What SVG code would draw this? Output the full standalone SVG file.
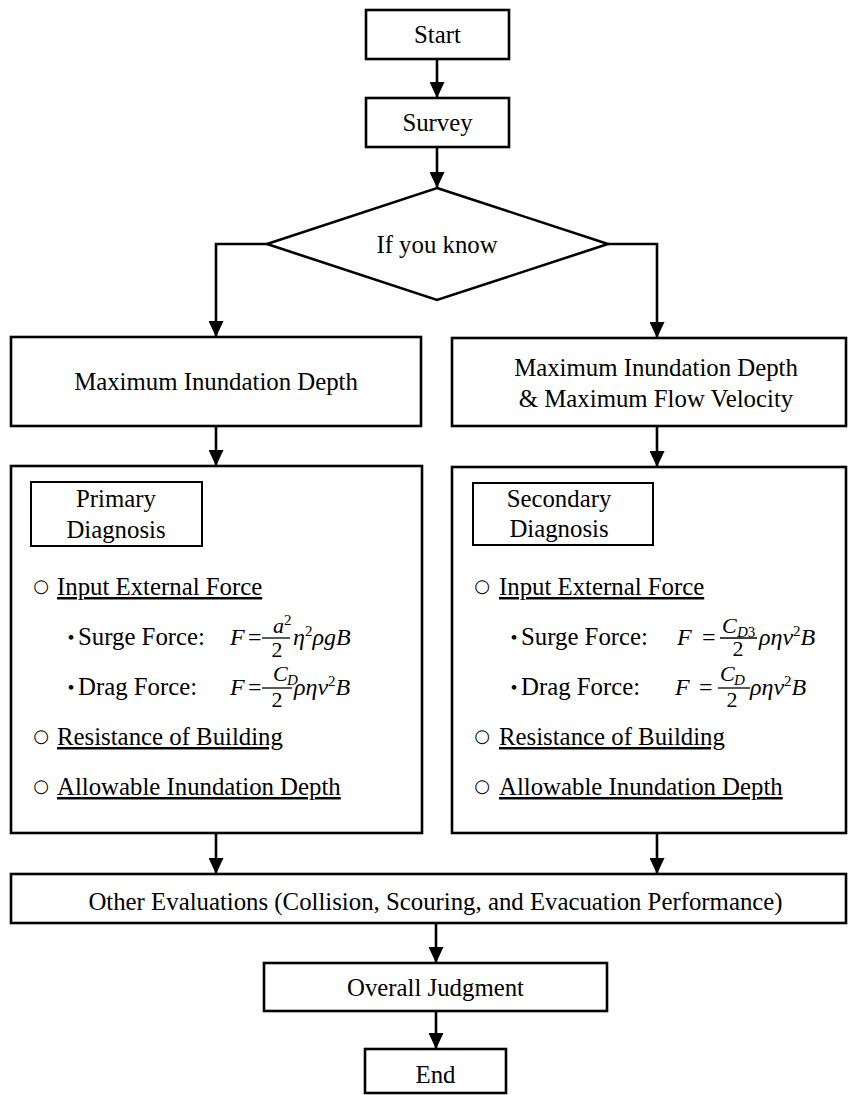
<svg xmlns="http://www.w3.org/2000/svg" width="849" height="1095" viewBox="0 0 849 1095">
<defs>
<marker id="ah" markerWidth="16" markerHeight="15" refX="16" refY="7.5" orient="auto" markerUnits="userSpaceOnUse">
<path d="M0,0 L16,7.5 L0,15 Z" fill="#000"/>
</marker>
<style>
.box{fill:#fff;stroke:#000;stroke-width:2.6}
.sub{fill:#fff;stroke:#000;stroke-width:2}
.t{font-family:"Liberation Serif","Times New Roman",serif;font-size:24.8px;fill:#000}
.c{text-anchor:middle}
.u{text-decoration:underline}
.fi{font-family:"Liberation Serif","Times New Roman",serif;font-style:italic;font-size:24px;fill:#000}
.fr{font-family:"Liberation Serif","Times New Roman",serif;font-size:24px;fill:#000}
.nm{font-size:22px}
.sb{font-size:15px}
.bar{stroke:#000;stroke-width:1.3}
.circ{font-family:"DejaVu Sans",sans-serif;font-size:18px;fill:#000;text-anchor:middle}
.dot{font-family:"Noto Sans CJK JP",sans-serif;font-size:22px;fill:#000;text-anchor:middle}
.conn{fill:none;stroke:#000;stroke-width:2.6}
</style>
</defs>
<rect width="849" height="1095" fill="#fff"/>

<g id="connectors">
<line class="conn" x1="437" y1="60" x2="437" y2="98" marker-end="url(#ah)"/>
<line class="conn" x1="437" y1="147" x2="437" y2="188" marker-end="url(#ah)"/>
<polyline class="conn" points="267,244 216,244 216,337" marker-end="url(#ah)"/>
<polyline class="conn" points="608,244 657,244 657,338" marker-end="url(#ah)"/>
<line class="conn" x1="216" y1="426" x2="216" y2="466" marker-end="url(#ah)"/>
<line class="conn" x1="657" y1="426" x2="657" y2="467" marker-end="url(#ah)"/>
<line class="conn" x1="216" y1="833" x2="216" y2="874" marker-end="url(#ah)"/>
<line class="conn" x1="657" y1="833" x2="657" y2="874" marker-end="url(#ah)"/>
<line class="conn" x1="436" y1="923" x2="436" y2="963" marker-end="url(#ah)"/>
<line class="conn" x1="436" y1="1011" x2="436" y2="1049" marker-end="url(#ah)"/>
</g>

<g id="start">
<rect class="box" x="366" y="10" width="143" height="49"/>
<text class="t c" x="437.5" y="43">Start</text>
</g>

<g id="survey">
<rect class="box" x="366" y="98" width="143" height="49"/>
<text class="t c" x="437.5" y="131">Survey</text>
</g>

<g id="decision">
<polygon class="box" points="437,188 608,244 437,300 267,244"/>
<text class="t c" x="437" y="253">If you know</text>
</g>

<g id="maxdepth">
<rect class="box" x="11" y="337" width="410" height="89"/>
<text class="t c" x="216" y="390">Maximum Inundation Depth</text>
</g>

<g id="maxdepthvel">
<rect class="box" x="452" y="338" width="394" height="88"/>
<text class="t c" x="656" y="376">Maximum Inundation Depth</text>
<text class="t c" x="656" y="407">&amp; Maximum Flow Velocity</text>
</g>

<g id="primary">
<rect class="box" x="11" y="466" width="411" height="367"/>
<rect class="sub" x="31" y="482" width="171" height="64"/>
<text class="t c" x="116" y="507">Primary</text>
<text class="t c" x="116" y="538">Diagnosis</text>

<text class="circ" x="41" y="592">○</text>
<text class="t u" x="57" y="595">Input External Force</text>

<text class="dot" x="71" y="645">・</text>
<text class="t" x="78" y="645">Surge Force:</text>
<text class="fi" x="230" y="645">F</text>
<text class="fr" x="248" y="645">=</text>
<text class="fi nm" x="273" y="633">a</text>
<text class="fr sb" x="284" y="625">2</text>
<line class="bar" x1="262" y1="638" x2="290" y2="638"/>
<text class="fr nm c" x="277" y="657">2</text>
<text class="fi" x="293" y="645">η<tspan class="sb" font-style="normal" dy="-9">2</tspan><tspan dy="9">ρgB</tspan></text>

<text class="dot" x="71" y="695">・</text>
<text class="t" x="78" y="695">Drag Force:</text>
<text class="fi" x="230" y="695">F</text>
<text class="fr" x="248" y="695">=</text>
<text class="fi nm" x="273" y="681">C</text>
<text class="fi sb" x="287" y="685">D</text>
<line class="bar" x1="262" y1="688" x2="292" y2="688"/>
<text class="fr nm c" x="277" y="707">2</text>
<text class="fi" x="294" y="695">ρηv<tspan class="sb" font-style="normal" dy="-9">2</tspan><tspan dy="9">B</tspan></text>

<text class="circ" x="41" y="742">○</text>
<text class="t u" x="57" y="745">Resistance of Building</text>
<text class="circ" x="41" y="792">○</text>
<text class="t u" x="57" y="795">Allowable Inundation Depth</text>
</g>

<g id="secondary">
<rect class="box" x="452" y="467" width="394" height="366"/>
<rect class="sub" x="473" y="483" width="180" height="62"/>
<text class="t c" x="559" y="507">Secondary</text>
<text class="t c" x="559" y="537">Diagnosis</text>

<text class="circ" x="482" y="592">○</text>
<text class="t u" x="499" y="595">Input External Force</text>

<text class="dot" x="514" y="645">・</text>
<text class="t" x="521" y="645">Surge Force:</text>
<text class="fi" x="677" y="645">F</text>
<text class="fr" x="702" y="645">=</text>
<text class="fi nm" x="722" y="633">C</text>
<text class="fi sb" x="737" y="637">D<tspan font-style="normal">3</tspan></text>
<line class="bar" x1="720" y1="638" x2="757" y2="638"/>
<text class="fr nm c" x="738" y="656">2</text>
<text class="fi" x="759" y="645">ρηv<tspan class="sb" font-style="normal" dy="-9">2</tspan><tspan dy="9">B</tspan></text>

<text class="dot" x="514" y="695">・</text>
<text class="t" x="521" y="695">Drag Force:</text>
<text class="fi" x="675" y="695">F</text>
<text class="fr" x="699" y="695">=</text>
<text class="fi nm" x="720" y="681">C</text>
<text class="fi sb" x="734" y="685">D</text>
<line class="bar" x1="718" y1="688" x2="750" y2="688"/>
<text class="fr nm c" x="732" y="707">2</text>
<text class="fi" x="750" y="695">ρηv<tspan class="sb" font-style="normal" dy="-9">2</tspan><tspan dy="9">B</tspan></text>

<text class="circ" x="482" y="742">○</text>
<text class="t u" x="499" y="745">Resistance of Building</text>
<text class="circ" x="482" y="792">○</text>
<text class="t u" x="499" y="795">Allowable Inundation Depth</text>
</g>

<g id="other">
<rect class="box" x="11" y="874" width="835" height="49"/>
<text class="t c" x="435.5" y="910">Other Evaluations (Collision, Scouring, and Evacuation Performance)</text>
</g>

<g id="judgment">
<rect class="box" x="264" y="963" width="343" height="48"/>
<text class="t c" x="435.5" y="996">Overall Judgment</text>
</g>

<g id="end">
<rect class="box" x="365" y="1049" width="141" height="44"/>
<text class="t c" x="435.5" y="1083">End</text>
</g>
</svg>
